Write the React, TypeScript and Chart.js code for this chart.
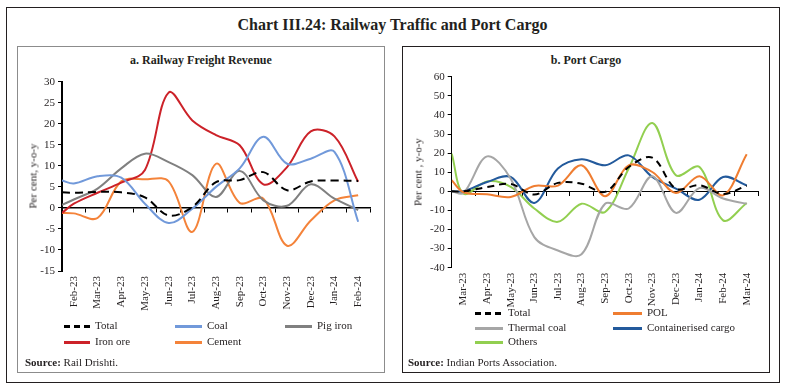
import React, { useEffect, useRef } from 'react';
import { Chart, registerables } from 'chart.js';

Chart.register(...registerables);

// ---------- Panel a: Railway Freight Revenue ----------
const monthsA = ['Feb-23', 'Mar-23', 'Apr-23', 'May-23', 'Jun-23', 'Jul-23', 'Aug-23', 'Sep-23', 'Oct-23', 'Nov-23', 'Dec-23', 'Jan-24', 'Feb-24'];
// first value sits on the vertical axis, followed by one value per month
const totalA = [3.7, 3.6, 3.8, 3.7, 2.5, -1.8, 0.2, 6.1, 6.6, 8.5, 4.2, 6.3, 6.5, 6.4];
const coalA = [6.5, 5.8, 7.5, 7.2, 1.0, -3.6, -0.2, 5.0, 9.4, 16.9, 10.5, 11.7, 13.3, -3.3];
const pigIronA = [0.7, 2.0, 4.6, 9.4, 12.9, 10.9, 7.8, 2.6, 8.8, 1.8, 0.5, 5.6, 2.2, -0.5];
const ironOreA = [-1.2, 1.0, 3.6, 6.0, 9.0, 27.4, 20.8, 17.3, 14.9, 5.6, 9.7, 18.2, 17.0, 6.2];
const cementA = [-1.2, -1.3, -2.4, 6.3, 6.8, 6.3, -5.7, 10.5, 1.2, 2.2, -9.0, -3.0, 1.8, 3.0];
const yTicksA = { min: -15, max: 30, step: 5 };

// ---------- Panel b: Port Cargo ----------
const monthsB = ['Mar-23', 'Apr-23', 'May-23', 'Jun-23', 'Jul-23', 'Aug-23', 'Sep-23', 'Oct-23', 'Nov-23', 'Dec-23', 'Jan-24', 'Feb-24', 'Mar-24'];
const totalB = [0, 0, 2.2, 3.8, -1.7, 4.4, 4.0, -0.3, 12.7, 17.6, 1.4, 3.2, -1.4, 3.0];
const polB = [5.8, -0.5, -1.6, -3.0, 2.8, 3.0, 13.6, -2.6, 13.6, 10.1, -0.9, 7.9, -2.1, 19.4];
const thermalCoalB = [0, -0.9, 18.3, 6.6, -24.0, -31.0, -33.0, -6.5, -9.0, 7.9, -11.3, 1.7, -3.8, -6.5];
const containerB = [0, 0, 4.9, 7.5, -6.1, 11.9, 16.8, 13.6, 18.8, 7.5, 1.4, -4.4, 7.5, 3.1];
const othersB = [19.7, -1.2, 5.2, 2.3, -9.0, -16.0, -6.5, -10.8, 11.9, 35.8, 8.4, 12.7, -15.2, -6.1];
const yTicksB = { min: -40, max: 60, step: 10 };

const FONT = '"Liberation Serif", "Times New Roman", serif';
const TXT = '#231f20';

type Series = { label: string; values: number[]; color: string; dash?: number[] };

// x position of each value: origin point on the axis, then month band centres
const positionsFor = (labels: string[]) => [0, ...labels.map((_, i) => i + 0.5)];

function LineChart(props: {
  labels: string[];
  series: Series[];
  yMin: number; yMax: number; step: number;
  width: number; height: number;
  yAxisWidth: number; xAxisHeight: number;
  padTop: number; padRight: number;
  yBorder: number; zeroBorder: number;
}) {
  const ref = useRef<HTMLCanvasElement>(null);
  useEffect(() => {
    const xs = positionsFor(props.labels);
    const chart = new Chart(ref.current!, {
      type: 'line',
      data: {
        datasets: props.series.map((s) => ({
          label: s.label,
          data: s.values.map((v, i) => ({ x: xs[i], y: v })),
          borderColor: s.color,
          backgroundColor: s.color,
          borderWidth: 2,
          borderDash: s.dash || [],
          pointRadius: 0,
          tension: 0.35,
          fill: false,
          xAxisID: 'xd',
          yAxisID: 'y',
        })),
      },
      options: {
        animation: false,
        responsive: false,
        maintainAspectRatio: false,
        layout: { padding: { top: props.padTop, right: props.padRight, left: 0, bottom: 0 } },
        plugins: { legend: { display: false }, tooltip: { enabled: false } },
        scales: {
          xd: { type: 'linear', display: false, min: 0, max: props.labels.length },
          x: {
            type: 'category',
            labels: props.labels,
            offset: true,
            position: 'bottom',
            grid: { display: false, drawTicks: false },
            border: { display: false },
            ticks: {
              autoSkip: false,
              maxRotation: 90,
              minRotation: 90,
              padding: 5,
              color: TXT,
              font: { family: FONT, size: 11 },
            },
            afterFit: (s: any) => { s.height = props.xAxisHeight; },
          },
          x0: {
            type: 'category',
            labels: props.labels,
            offset: true,
            position: { y: 0 },
            grid: { display: true, offset: true, drawOnChartArea: false, drawTicks: true, tickLength: 4, color: '#000', lineWidth: 1 },
            border: { display: true, color: '#000', width: props.zeroBorder },
            ticks: { display: false },
          },
          y: {
            type: 'linear',
            position: 'left',
            min: props.yMin,
            max: props.yMax,
            ticks: { stepSize: props.step, padding: 3, color: TXT, font: { family: FONT, size: 11 } },
            grid: { display: true, drawOnChartArea: false, drawTicks: true, tickLength: 4, color: '#000' },
            border: { display: true, color: '#000', width: props.yBorder },
            afterFit: (s: any) => { s.width = props.yAxisWidth; },
          },
        },
      } as any,
    });
    return () => chart.destroy();
  }, []);
  return <canvas ref={ref} width={props.width} height={props.height} style={{ width: props.width, height: props.height, display: 'block' }} />;
}

function Abs(props: { x: number; y: number; children?: any; style?: any }) {
  return <div style={{ position: 'absolute', left: props.x, top: props.y, ...props.style }}>{props.children}</div>;
}

function LegendItem(props: { x1: number; x2: number; y: number; color: string; dashed?: boolean; text: string }) {
  const w = props.x2 - props.x1;
  const bg = props.dashed
    ? `repeating-linear-gradient(to right, ${props.color} 0px, ${props.color} 6px, transparent 6px, transparent 10px)`
    : props.color;
  return (
    <>
      <div style={{ position: 'absolute', left: props.x1, top: props.y - 1, width: w, height: 2.5, background: bg }} />
      <div style={{ position: 'absolute', left: props.x2 + 5, top: props.y - 8, fontSize: 11, lineHeight: '15px', whiteSpace: 'nowrap', color: TXT }}>{props.text}</div>
    </>
  );
}

function VText(props: { cx: number; cy: number; text: string }) {
  return (
    <div style={{ position: 'absolute', left: props.cx, top: props.cy, transform: 'translate(-50%, -50%) rotate(-90deg)', whiteSpace: 'nowrap', fontSize: 11, lineHeight: '13px', color: TXT }}>
      {props.text}
    </div>
  );
}

const C_TOTAL = '#000000';
const C_COAL = '#7199da';
const C_PIG = '#808080';
const C_IRON = '#cc2229';
const C_CEMENT = '#f4833a';
const C_POL = '#ef7d31';
const C_THERMAL = '#a6a6a6';
const C_CONT = '#235a9c';
const C_OTHERS = '#92cf50';

export default function App() {
  const seriesA: Series[] = [
    { label: 'Total', values: totalA, color: C_TOTAL, dash: [8, 5] },
    { label: 'Coal', values: coalA, color: C_COAL },
    { label: 'Pig iron', values: pigIronA, color: C_PIG },
    { label: 'Iron ore', values: ironOreA, color: C_IRON },
    { label: 'Cement', values: cementA, color: C_CEMENT },
  ];
  const seriesB: Series[] = [
    { label: 'Total', values: totalB, color: C_TOTAL, dash: [7, 5] },
    { label: 'POL', values: polB, color: C_POL },
    { label: 'Thermal coal', values: thermalCoalB, color: C_THERMAL },
    { label: 'Containerised cargo', values: containerB, color: C_CONT },
    { label: 'Others', values: othersB, color: C_OTHERS },
  ];
  return (
    <div style={{ position: 'fixed', left: 0, top: 0, width: 785, height: 391, background: '#fff', fontFamily: FONT, color: TXT, overflow: 'hidden' }}>
      <Abs x={6} y={7} style={{ width: 774, height: 376, border: '1.5px solid #231f20', boxSizing: 'border-box' }} />
      <Abs x={0} y={15} style={{ width: 785, textAlign: 'center', fontSize: 16, fontWeight: 'bold', lineHeight: '20px' }}>
        Chart III.24: Railway Traffic and Port Cargo
      </Abs>

      {/* Panel a */}
      <Abs x={17} y={46} style={{ width: 368, height: 327, border: '1.5px solid #8c8c8c', boxSizing: 'border-box' }} />
      <Abs x={17} y={52} style={{ width: 368, textAlign: 'center', fontSize: 12, fontWeight: 'bold', lineHeight: '16px' }}>
        a. Railway Freight Revenue
      </Abs>
      <Abs x={17} y={70}>
        <LineChart labels={monthsA} series={seriesA} yMin={yTicksA.min} yMax={yTicksA.max} step={yTicksA.step}
          width={368} height={250} yAxisWidth={45} xAxisHeight={49} padTop={11.7} padRight={15} yBorder={2} zeroBorder={1.5} />
      </Abs>
      <VText cx={33} cy={176} text="Per cent, y-o-y" />
      <LegendItem x1={64} x2={90} y={326} color={C_TOTAL} dashed text="Total" />
      <LegendItem x1={175} x2={202} y={326} color={C_COAL} text="Coal" />
      <LegendItem x1={285} x2={312} y={326} color={C_PIG} text="Pig iron" />
      <LegendItem x1={64} x2={90} y={342} color={C_IRON} text="Iron ore" />
      <LegendItem x1={175} x2={202} y={342} color={C_CEMENT} text="Cement" />
      <Abs x={25} y={355} style={{ fontSize: 11, lineHeight: '15px', whiteSpace: 'nowrap' }}>
        <b>Source:</b> Rail Drishti.
      </Abs>

      {/* Panel b */}
      <Abs x={402} y={46} style={{ width: 368, height: 327, border: '1px solid #231f20', boxSizing: 'border-box' }} />
      <Abs x={402} y={52} style={{ width: 368, textAlign: 'center', fontSize: 12, fontWeight: 'bold', lineHeight: '16px' }}>
        b. Port Cargo
      </Abs>
      <Abs x={402} y={65}>
        <LineChart labels={monthsB} series={seriesB} yMin={yTicksB.min} yMax={yTicksB.max} step={yTicksB.step}
          width={368} height={250} yAxisWidth={49.7} xAxisHeight={47.3} padTop={11.7} padRight={11.5} yBorder={1} zeroBorder={1} />
      </Abs>
      <VText cx={418} cy={172} text="Per cent , y-o-y" />
      <LegendItem x1={475} x2={503} y={313} color={C_TOTAL} dashed text="Total" />
      <LegendItem x1={613} x2={642} y={313} color={C_POL} text="POL" />
      <LegendItem x1={475} x2={503} y={328} color={C_THERMAL} text="Thermal coal" />
      <LegendItem x1={613} x2={642} y={328} color={C_CONT} text="Containerised cargo" />
      <LegendItem x1={475} x2={503} y={342} color={C_OTHERS} text="Others" />
      <Abs x={408} y={355} style={{ fontSize: 11, lineHeight: '15px', whiteSpace: 'nowrap' }}>
        <b>Source:</b> Indian Ports Association.
      </Abs>
    </div>
  );
}
